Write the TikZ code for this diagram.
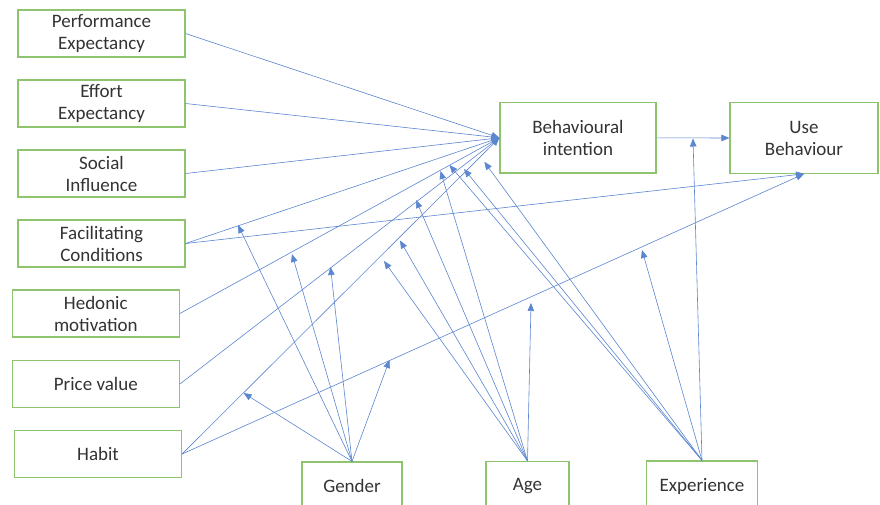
\documentclass[tikz,border=0pt]{standalone}
\usepackage{fontspec}
\setmainfont{Carlito}
\usetikzlibrary{arrows.meta}
\definecolor{boxgreen}{HTML}{8FC46F}
\definecolor{linkblue}{HTML}{5B86D0}
\definecolor{txt}{HTML}{333333}
\begin{document}
\begin{tikzpicture}[x=1pt,y=-1pt,
  fbox/.style={draw=boxgreen,line width=1.2pt,fill=white,inner sep=0pt,
    align=center,text=txt,font=\fontsize{19}{22}\selectfont},
  lbox/.style={fbox,minimum width=167pt,minimum height=47pt},
  link/.style={draw=linkblue,line width=0.6pt,-{Triangle[length=8pt,width=6.5pt]}}]
\useasboundingbox (0,0) rectangle (880,504);
\clip (0,0) rectangle (880,504);
\fill[white] (0,0) rectangle (880,504);

% constructs on the left
\node[lbox] (pe) at (101.5,33.5) {Performance\\Expectancy};
\node[lbox] (ee) at (101.5,103.5) {Effort\\Expectancy};
\node[lbox] (si) at (101.5,173.5) {Social\\Influence};
\node[lbox] (fc) at (101.5,243.5) {Facilitating\\Conditions};
\node[lbox] (hm) at (95.8,313.5) {Hedonic\\motivation};
\node[lbox] (pv) at (95.8,384) {Price value};
\node[lbox] (hb) at (98,454) {Habit};

% outcomes
\node[fbox,minimum width=156pt,minimum height=70.5pt] (bi) at (578,137.8) {Behavioural\\intention};
\node[fbox,minimum width=148pt,minimum height=70.5pt] (ub) at (804,138) {Use\\Behaviour};

% moderators
\node[fbox,minimum width=100pt,minimum height=48pt] (gender) at (352,486) {Gender};
\node[fbox,minimum width=83pt,minimum height=49pt] (age) at (527.5,486) {Age};
\node[fbox,minimum width=111pt,minimum height=50pt] (exp) at (702,486) {Experience};

% direct effects
\draw[link] (pe.east) -- (bi.west);
\draw[link] (ee.east) -- (bi.west);
\draw[link] (si.east) -- (bi.west);
\draw[link] (fc.east) -- (bi.west);
\draw[link] (hm.east) -- (bi.west);
\draw[link] (pv.east) -- (bi.west);
\draw[link] (hb.east) -- (bi.west);
\draw[link] (fc.east) -- (ub.south);
\draw[link] (hb.east) -- (ub.south);
\draw[link] (bi.east) -- (ub.west);

% moderating effects: end points on the direct paths
\coordinate (g1) at (238,225);
\coordinate (g2) at (292,254);
\coordinate (g3) at (330.5,267);
\coordinate (g4) at (389.5,360);
\coordinate (g5) at (243.6,393);
\coordinate (a1) at (384,261);
\coordinate (a2) at (400,240.5);
\coordinate (a3) at (416,200);
\coordinate (a4) at (440.5,171);
\coordinate (a5) at (531,303);
\coordinate (e1) at (449.4,165);
\coordinate (e2) at (464,169);
\coordinate (e3) at (484.3,161.8);
\coordinate (e4) at (642,250);
\coordinate (e5) at (693,138.5);

\foreach \t in {g1,g2,g3,g4,g5} \draw[link] (gender.north) -- (\t);
\foreach \t in {a1,a2,a3,a4,a5} \draw[link] (age.north) -- (\t);
\foreach \t in {e1,e2,e3,e4,e5} \draw[link] (exp.north) -- (\t);
\end{tikzpicture}
\end{document}
